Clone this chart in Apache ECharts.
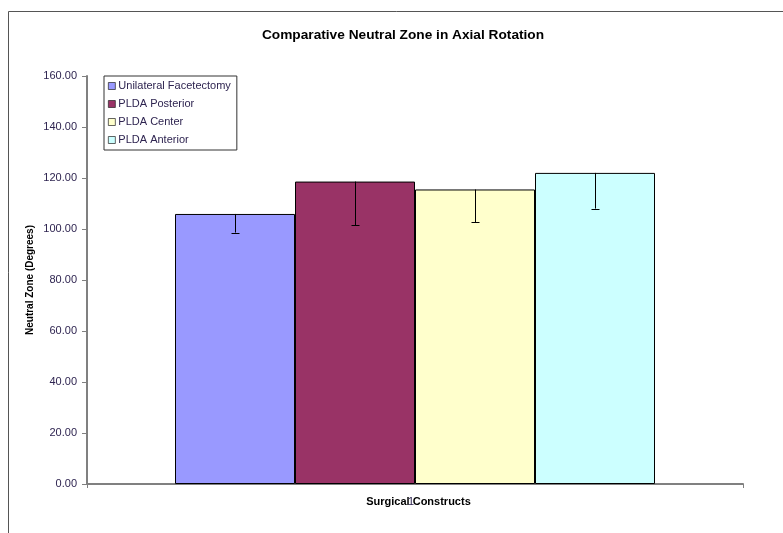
<!DOCTYPE html>
<html>
<head>
<meta charset="utf-8">
<script src="https://cdn.jsdelivr.net/npm/echarts@6/dist/echarts.min.js"></script>
<style>html,body{margin:0;padding:0;background:#fff;}#c{width:783px;height:533px;}</style>
</head>
<body>
<div id="c"></div>
<script>
var categories = ['1'];
var seriesNames = ['Unilateral Facetectomy', 'PLDA Posterior', 'PLDA Center', 'PLDA Anterior'];
var meanValues = [105.9, 118.6, 115.5, 122.0];
var lowerErrors = [7.3, 17.2, 12.8, 14.0];
var seriesColors = ['#9999FF', '#993366', '#FFFFCC', '#CCFFFF'];
var yTicks = [0, 20, 40, 60, 80, 100, 120, 140, 160];

var barFrac = 120 / 656;
var chart = echarts.init(document.getElementById('c'));
var series = [];
seriesNames.forEach(function (n, i) {
  series.push({
    name: n, type: 'bar', data: [meanValues[i]],
    barWidth: (barFrac * 100) + '%', barGap: '0%',
    itemStyle: { color: seriesColors[i], borderColor: '#000', borderWidth: 1 },
    emphasis: { disabled: true }, animation: false
  });
});
var errData = meanValues.map(function (v, i) { return [0, v, v - lowerErrors[i], i]; });
series.push({
  type: 'custom', silent: true, animation: false, z: 10,
  data: errData,
  renderItem: function (params, api) {
    var band = api.size([1, 0])[0];
    var idx = api.value(3);
    var top = api.coord([0, api.value(1)]);
    var bot = api.coord([0, api.value(2)]);
    var x = Math.round(top[0] + (idx - 1.5) * band * barFrac) + 0.5;
    return {
      type: 'group',
      children: [
        { type: 'line', shape: { x1: x, y1: top[1], x2: x, y2: bot[1] }, style: { stroke: '#000', lineWidth: 1 } },
        { type: 'line', shape: { x1: x - 4, y1: Math.round(bot[1]) + 0.5, x2: x + 4, y2: Math.round(bot[1]) + 0.5 }, style: { stroke: '#000', lineWidth: 1 } }
      ]
    };
  }
});

chart.setOption({
  animation: false,
  textStyle: { fontFamily: 'Liberation Sans, Arial, sans-serif' },
  graphic: [{
    type: 'rect', silent: true, z: -1,
    shape: { x: 8.5, y: 11.5, width: 900, height: 700 },
    style: { fill: 'none', stroke: '#555', lineWidth: 1 }
  }],
  title: {
    text: 'Comparative Neutral Zone in Axial Rotation',
    left: 398, top: 23, textAlign: 'center',
    textStyle: { fontSize: 13.7, fontWeight: 'bold', color: '#000', fontFamily: 'Liberation Sans, Arial, sans-serif' }
  },
  legend: {
    orient: 'vertical', left: 104, top: 76,
    padding: [4, 6, 4, 4],
    itemWidth: 7, itemHeight: 7, itemGap: 6, icon: 'rect',
    borderColor: '#333', borderWidth: 1, backgroundColor: '#fff',
    data: seriesNames,
    selectedMode: false,
    itemStyle: { borderWidth: 0.7, borderColor: '#222' },
    textStyle: { fontSize: 11, lineHeight: 12, color: '#2e2450', padding: [0, 0, 0, -2] }
  },
  grid: { left: 87, right: 40, top: 76, bottom: 49, containLabel: false },
  xAxis: {
    type: 'category', data: categories,
    name: 'Surgical Constructs', nameLocation: 'middle', nameGap: 12, nameMoveOverlap: false,
    nameTextStyle: { fontSize: 11, fontWeight: 'bold', color: '#000', padding: [0, 0, 0, 7] },
    axisLine: { lineStyle: { color: '#808080', width: 2 } },
    axisTick: { show: true, alignWithLabel: false, length: 4, lineStyle: { color: '#808080' } },
    axisLabel: { margin: 12, fontSize: 11, color: '#2e2450', padding: [0, 8, 0, 0] }
  },
  yAxis: {
    type: 'value', min: 0, max: 160, interval: 20,
    name: 'Neutral Zone (Degrees)', nameLocation: 'middle', nameGap: 52, nameMoveOverlap: false,
    nameTextStyle: { fontSize: 10, fontWeight: 'bold', color: '#000' },
    axisLine: { show: true, lineStyle: { color: '#808080', width: 2 } },
    axisTick: { show: true, length: 5, lineStyle: { color: '#808080' } },
    splitLine: { show: false },
    axisLabel: { margin: 10, fontSize: 11, color: '#2e2450', formatter: function (v) { return v.toFixed(2); } }
  },
  series: series
});
</script>
</body>
</html>
